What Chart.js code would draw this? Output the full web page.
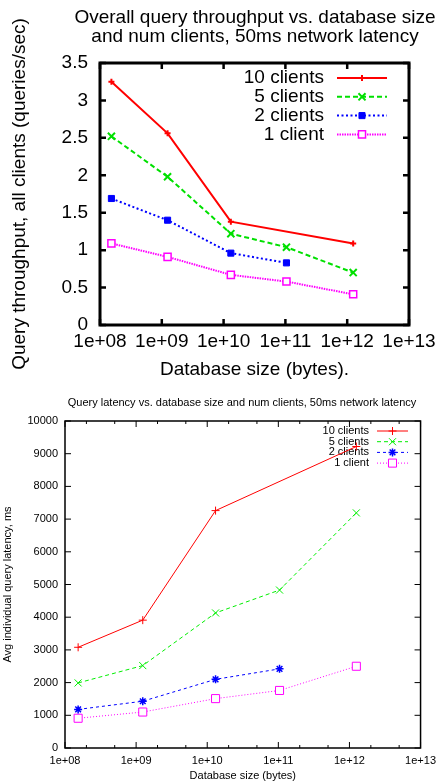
<!DOCTYPE html>
<html><head><meta charset="utf-8">
<script src="https://cdn.jsdelivr.net/npm/chart.js@4.4.1/dist/chart.umd.min.js"></script>
<style>
html,body{margin:0;padding:0;background:#fff;width:442px;height:782px;overflow:hidden}
canvas{position:absolute;left:0}
#c1{top:0}
#c2{top:390px}
</style></head><body>
<canvas id="c1" width="442" height="390"></canvas>
<canvas id="c2" width="442" height="392"></canvas>
<script>
const FONT = '"Liberation Sans", Arial, Helvetica, sans-serif';

// ---- data ----
const seriesNames = ['10 clients', '5 clients', '2 clients', '1 client'];
const dbSizes = [1.53e8, 1.24e9, 1.31e10, 1.04e11, 1.25e12];
const thr10 = [3.25, 2.56, 1.38, null, 1.09];
const thr5  = [2.52, 1.98, 1.22, 1.04, 0.70];
const thr2  = [1.69, 1.40, 0.96, 0.83, null];
const thr1  = [1.09, 0.91, 0.67, 0.58, 0.41];
const lat10 = [3080, 3910, 7260, null, 9220];
const lat5  = [1990, 2520, 4130, 4830, 7190];
const lat2  = [1180, 1430, 2100, 2420, null];
const lat1  = [910, 1100, 1510, 1760, 2500];
const xTickValues = [1e8, 1e9, 1e10, 1e11, 1e12, 1e13];
const xTickLabels = ['1e+08', '1e+09', '1e+10', '1e+11', '1e+12', '1e+13'];
const xMinorValues = [2e8, 5e8, 2e9, 5e9, 2e10, 5e10, 2e11, 5e11, 2e12, 5e12];
const thrTicks = [0, 0.5, 1, 1.5, 2, 2.5, 3, 3.5];
const thrTickLabels = ['0', '0.5', '1', '1.5', '2', '2.5', '3', '3.5'];
const latTicks = [0, 1000, 2000, 3000, 4000, 5000, 6000, 7000, 8000, 9000, 10000];
const latTickLabels = ['0', '1000', '2000', '3000', '4000', '5000', '6000', '7000', '8000', '9000', '10000'];
const topTitle = ['Overall query throughput vs. database size', 'and num clients, 50ms network latency'];
const topXTitle = 'Database size (bytes).';
const topYTitle = 'Query throughput, all clients (queries/sec)';
const botTitle = ['Query latency vs. database size and num clients, 50ms network latency'];
const botXTitle = 'Database size (bytes)';
const botYTitle = 'Avg individual query latency, ms';

function pts(arr) {
  return dbSizes.map((x, i) => ({x: x, y: arr[i]})).filter(p => p.y !== null);
}

const deco = {
  id: 'deco',
  beforeDatasetsDraw(chart, args, o) {
    const ctx = chart.ctx, a = chart.chartArea;
    const sx = chart.scales.x, sy = chart.scales.y;
    ctx.save();
    ctx.strokeStyle = '#000';
    ctx.lineWidth = o.tickW;
    ctx.beginPath();
    sy.ticks.forEach(t => {
      const p = sy.getPixelForValue(t.value);
      ctx.moveTo(a.left, p); ctx.lineTo(a.left + o.tickLen, p);
      ctx.moveTo(a.right, p); ctx.lineTo(a.right - o.tickLen, p);
    });
    sx.ticks.forEach(t => {
      const p = sx.getPixelForValue(t.value);
      const L = xTickValues.includes(t.value) ? o.tickLen : o.minorLen;
      ctx.moveTo(p, a.bottom); ctx.lineTo(p, a.bottom - L);
      ctx.moveTo(p, a.top); ctx.lineTo(p, a.top + L);
    });
    ctx.stroke();
    ctx.lineWidth = o.frameW;
    ctx.strokeRect(a.left, a.top, a.right - a.left, a.bottom - a.top);

    ctx.fillStyle = '#000';
    ctx.textAlign = 'center';
    ctx.textBaseline = 'middle';
    ctx.font = o.fs + 'px ' + FONT;
    o.title.forEach((line, i) => ctx.fillText(line, o.titleX, o.titleY + i * o.titleLH));
    ctx.fillText(o.xTitle, (a.left + a.right) / 2, o.xTitleY);
    ctx.save();
    ctx.translate(o.yTitleX, (a.top + a.bottom) / 2);
    ctx.rotate(-Math.PI / 2);
    ctx.fillText(o.yTitle, 0, 0);
    ctx.restore();

    chart.data.datasets.forEach((ds, i) => {
      const y = o.legY + i * o.legLH;
      ctx.textAlign = 'right';
      ctx.fillStyle = '#000';
      ctx.fillText(ds.label, o.legTextR, y);
      ctx.save();
      ctx.strokeStyle = ds.borderColor;
      ctx.lineWidth = ds.borderWidth;
      ctx.setLineDash(ds.borderDash || []);
      ctx.beginPath(); ctx.moveTo(o.legX1, y); ctx.lineTo(o.legX2, y); ctx.stroke();
      ctx.setLineDash([]);
      ctx.fillStyle = ds.pointBackgroundColor;
      ctx.strokeStyle = ds.pointBorderColor;
      ctx.lineWidth = ds.pointBorderWidth;
      Chart.helpers.drawPoint(ctx, {pointStyle: ds.pointStyle, radius: ds.pointRadius, rotation: 0, borderWidth: ds.pointBorderWidth}, (o.legX1 + o.legX2) / 2, y);
      ctx.restore();
    });
    ctx.restore();
  }
};

function makeScales(fs, yTicks, yLabels, ymax, xpad, ypad, withMinor, yW, xH) {
  return {
    x: {
      type: 'logarithmic', min: 1e8, max: 1e13, position: 'bottom',
      afterFit(s) { s.height = xH; },
      afterBuildTicks(s) {
        const vals = withMinor ? xTickValues.concat(xMinorValues).sort((p, q) => p - q) : xTickValues;
        s.ticks = vals.map(v => ({value: v}));
      },
      ticks: {
        autoSkip: false, maxRotation: 0, minRotation: 0, padding: xpad, color: '#000',
        font: {family: FONT, size: fs},
        callback: (v) => { const i = xTickValues.indexOf(v); return i >= 0 ? xTickLabels[i] : ''; }
      },
      grid: {display: false, drawTicks: false}, border: {display: false}
    },
    y: {
      type: 'linear', min: 0, max: ymax, position: 'left',
      afterFit(s) { s.width = yW; },
      afterBuildTicks(s) { s.ticks = yTicks.map(v => ({value: v})); },
      ticks: {
        autoSkip: false, padding: ypad, color: '#000',
        font: {family: FONT, size: fs},
        callback: (v) => { const i = yTicks.indexOf(v); return i >= 0 ? yLabels[i] : ''; }
      },
      grid: {display: false, drawTicks: false}, border: {display: false}
    }
  };
}

function ds(label, data, color, width, dash, style, radius, pw, bg) {
  return {
    label: label, data: pts(data), borderColor: color, borderWidth: width, borderDash: dash,
    pointStyle: style, pointRadius: radius, pointBorderWidth: pw, pointBorderColor: color,
    pointBackgroundColor: bg, fill: false, tension: 0, spanGaps: true, clip: false
  };
}

new Chart(document.getElementById('c1'), {
  type: 'line',
  data: {
    datasets: [
      ds(seriesNames[0], thr10, '#ff0000', 2, [], 'cross', 3, 2, '#ff0000'),
      ds(seriesNames[1], thr5, '#00e000', 2, [5, 3], 'crossRot', 5, 2, '#00e000'),
      ds(seriesNames[2], thr2, '#0000ff', 2, [2, 2.5], 'rect', 4.3, 1, '#0000ff'),
      ds(seriesNames[3], thr1, '#ff00ff', 2, [1.5, 1], 'rect', 5, 1.5, '#ffffff')
    ]
  },
  options: {
    responsive: false, animation: false, events: [],
    layout: {padding: {left: 0, right: 33, top: 63, bottom: 0}},
    scales: makeScales(19, thrTicks, thrTickLabels, 3.5, 5, 12, false, 100, 65),
    plugins: {
      legend: {display: false}, title: {display: false}, tooltip: {enabled: false},
      deco: {
        tickW: 2.5, tickLen: 6, minorLen: 3, frameW: 3, fs: 19,
        title: topTitle, titleX: 255, titleY: 18, titleLH: 19,
        xTitle: topXTitle, xTitleY: 370, yTitle: topYTitle, yTitleX: 20,
        legY: 78, legLH: 18.8, legTextR: 324, legX1: 337, legX2: 387
      }
    }
  },
  plugins: [deco]
});

new Chart(document.getElementById('c2'), {
  type: 'line',
  data: {
    datasets: [
      ds(seriesNames[0], lat10, '#ff0000', 1, [], 'cross', 4, 1, '#ff0000'),
      ds(seriesNames[1], lat5, '#00ee00', 1, [4, 3], 'crossRot', 5, 1, '#00ee00'),
      ds(seriesNames[2], lat2, '#0000ff', 1, [3, 3], 'star', 4, 1.5, '#0000ff'),
      ds(seriesNames[3], lat1, '#ff00ff', 1, [1, 2], 'rect', 5.7, 1, '#ffffff')
    ]
  },
  options: {
    responsive: false, animation: false, events: [],
    layout: {padding: {left: 0, right: 21, top: 31, bottom: 0}},
    scales: makeScales(11, latTicks, latTickLabels, 10000, 6, 7, true, 65, 34),
    plugins: {
      legend: {display: false}, title: {display: false}, tooltip: {enabled: false},
      deco: {
        tickW: 1, tickLen: 6, minorLen: 3, frameW: 1.5, fs: 11,
        title: botTitle, titleX: 242, titleY: 13, titleLH: 12,
        xTitle: botXTitle, xTitleY: 386, yTitle: botYTitle, yTitleX: 8,
        legY: 41, legLH: 10.7, legTextR: 369, legX1: 377, legX2: 408
      }
    }
  },
  plugins: [deco]
});
</script>
</body></html>
